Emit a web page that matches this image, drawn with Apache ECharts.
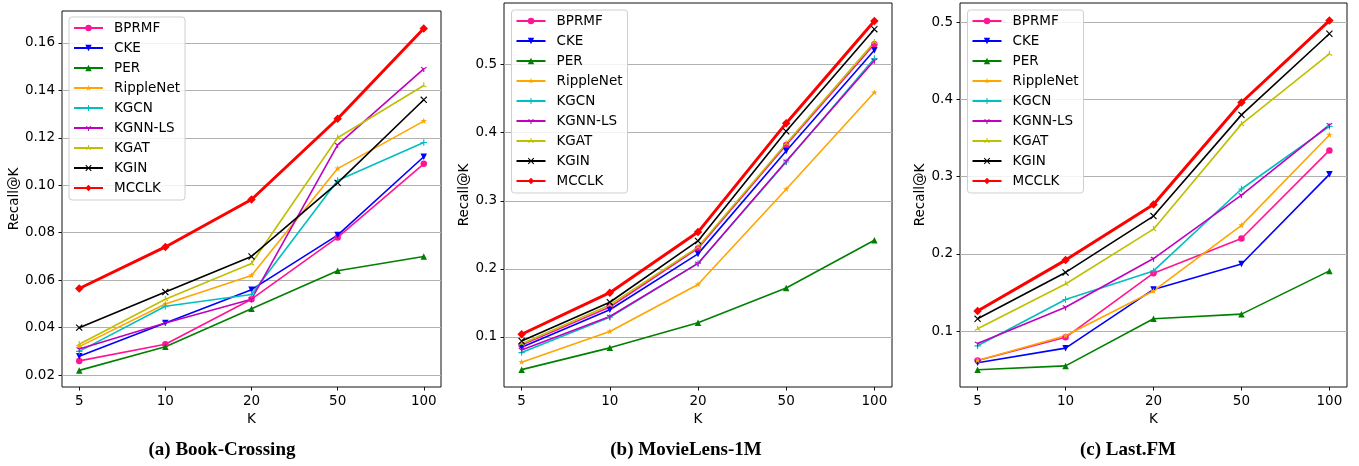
<!DOCTYPE html>
<html>
<head>
<meta charset="utf-8">
<script src="https://cdn.jsdelivr.net/npm/echarts@6/dist/echarts.min.js"></script>
<style>html,body{margin:0;padding:0;background:#fff;}#c{width:1359px;height:466px;}</style>
</head>
<body>
<div id="c"></div>
<script>
// ---------------- data ----------------
const categories = ['5', '10', '20', '50', '100'];
const methods = ['BPRMF', 'CKE', 'PER', 'RippleNet', 'KGCN', 'KGNN-LS', 'KGAT', 'KGIN', 'MCCLK'];

const bookCrossing = [
  [0.026, 0.033, 0.052, 0.078, 0.109],
  [0.028, 0.042, 0.056, 0.079, 0.112],
  [0.022, 0.032, 0.048, 0.064, 0.070],
  [0.032, 0.050, 0.062, 0.107, 0.127],
  [0.030, 0.049, 0.054, 0.102, 0.118],
  [0.031, 0.042, 0.052, 0.117, 0.149],
  [0.033, 0.052, 0.067, 0.120, 0.142],
  [0.040, 0.055, 0.070, 0.101, 0.136],
  [0.0565, 0.074, 0.094, 0.128, 0.166]
];
const movieLens = [
  [0.088, 0.144, 0.230, 0.382, 0.530],
  [0.085, 0.140, 0.222, 0.373, 0.521],
  [0.052, 0.084, 0.121, 0.172, 0.242],
  [0.063, 0.108, 0.177, 0.317, 0.459],
  [0.077, 0.129, 0.208, 0.357, 0.509],
  [0.081, 0.130, 0.208, 0.358, 0.506],
  [0.090, 0.147, 0.232, 0.384, 0.533],
  [0.094, 0.151, 0.241, 0.402, 0.552],
  [0.104, 0.165, 0.254, 0.414, 0.564]
];
const lastFM = [
  [0.062, 0.092, 0.175, 0.220, 0.334],
  [0.059, 0.078, 0.154, 0.187, 0.303],
  [0.050, 0.055, 0.116, 0.122, 0.178],
  [0.062, 0.094, 0.152, 0.237, 0.354],
  [0.081, 0.141, 0.178, 0.284, 0.365],
  [0.084, 0.131, 0.194, 0.276, 0.367],
  [0.103, 0.161, 0.232, 0.368, 0.459],
  [0.116, 0.176, 0.249, 0.380, 0.485],
  [0.126, 0.192, 0.264, 0.396, 0.502]
];
const yTicksBook = [0.02, 0.04, 0.06, 0.08, 0.10, 0.12, 0.14, 0.16];
const yTicksMovie = [0.1, 0.2, 0.3, 0.4, 0.5];
const yTicksLast = [0.1, 0.2, 0.3, 0.4, 0.5];
const captions = ['(a) Book-Crossing', '(b) MovieLens-1M', '(c) Last.FM'];

// ---------------- styles ----------------
function armPath(anglesDeg, len, h) {
  let s = 'path://M-11,-11L-11,-11M11,11L11,11';
  anglesDeg.forEach(function (a) {
    const t = a * Math.PI / 180, dx = Math.cos(t), dy = Math.sin(t), px = -dy, py = dx;
    const P = function (x, y) { return x.toFixed(3) + ',' + y.toFixed(3); };
    s += 'M' + P(-dx * h + px * h, -dy * h + py * h) +
         'L' + P(dx * len + px * h, dy * len + py * h) +
         'L' + P(dx * len - px * h, dy * len - py * h) +
         'L' + P(-dx * h - px * h, -dy * h - py * h) + 'Z';
  });
  return s;
}
function starPath(R, r) {
  let s = 'path://M-11,-11L-11,-11M11,11L11,11M';
  for (let i = 0; i < 10; i++) {
    const rad = i % 2 === 0 ? R : r;
    const t = -Math.PI / 2 + i * Math.PI / 5;
    s += (i ? 'L' : '') + (rad * Math.cos(t)).toFixed(3) + ',' + (rad * Math.sin(t)).toFixed(3);
  }
  return s + 'Z';
}
const SYM_PLUS = armPath([0, 90, 180, 270], 10, 1.8);
const SYM_X = armPath([45, 135, 225, 315], 13.5, 1.8);
const SYM_TRIDOWN = armPath([90, 210, 330], 10, 1.8);
const SYM_TRIUP = armPath([270, 30, 150], 10, 1.8);
const SYM_STAR = starPath(10.5, 4.2);

const styles = [
  {color: '#ff1493', symbol: 'circle', size: 6.5, rot: 0, width: 1.6},
  {color: '#0000ff', symbol: 'triangle', size: 6.5, rot: 180, width: 1.6},
  {color: '#008000', symbol: 'triangle', size: 6.5, rot: 0, width: 1.6},
  {color: '#ffa500', symbol: SYM_STAR, size: 7, rot: 0, width: 1.6},
  {color: '#00bfbf', symbol: SYM_PLUS, size: 7, rot: 0, width: 1.6},
  {color: '#bf00bf', symbol: SYM_TRIDOWN, size: 7, rot: 0, width: 1.6},
  {color: '#bfbf00', symbol: SYM_TRIUP, size: 7, rot: 0, width: 1.6},
  {color: '#000000', symbol: SYM_X, size: 7, rot: 0, width: 1.6},
  {color: '#ff0000', symbol: 'diamond', size: 8.5, rot: 0, width: 3}
];

const FONT = 'DejaVu Sans';
const panels = [
  {values: bookCrossing, ticks: yTicksBook, dec: 2, min: 0.0150, max: 0.1734,
   grid: {left: 62, top: 11, width: 379, height: 376}, nameGap: 38,
   legend: {left: 69, top: 17}, capX: 222},
  {values: movieLens, ticks: yTicksMovie, dec: 1, min: 0.0265, max: 0.5905,
   grid: {left: 504, top: 3, width: 388, height: 384}, nameGap: 30,
   legend: {left: 511.5, top: 10}, capX: 686},
  {values: lastFM, ticks: yTicksLast, dec: 1, min: 0.0277, max: 0.5248,
   grid: {left: 960, top: 3, width: 387, height: 384}, nameGap: 30,
   legend: {left: 967.5, top: 10}, capX: 1128}
];

const option = {
  animation: false,
  backgroundColor: '#ffffff',
  grid: [], xAxis: [], yAxis: [], series: [], legend: []
};

panels.forEach(function (p, pi) {
  option.grid.push(Object.assign({show: true, borderColor: '#111', borderWidth: 1, backgroundColor: 'transparent', containLabel: false}, p.grid));
  option.xAxis.push({
    type: 'value', gridIndex: pi, min: -0.2, max: 4.2, position: 'bottom',
    name: 'K', nameLocation: 'middle', nameGap: 22,
    nameTextStyle: {fontFamily: FONT, fontSize: 13.5, color: '#000'},
    axisLine: {show: false, onZero: false},
    axisTick: {show: true, length: 3.5, customValues: [0, 1, 2, 3, 4], lineStyle: {color: '#111', width: 1}},
    axisLabel: {customValues: [0, 1, 2, 3, 4], margin: 7, fontFamily: FONT, fontSize: 13.5, color: '#000',
      formatter: function (v) { return categories[Math.round(v)]; }},
    splitLine: {show: false}
  });
  option.yAxis.push({
    type: 'value', gridIndex: pi, min: p.min, max: p.max, position: 'left',
    name: 'Recall@K', nameLocation: 'middle', nameGap: p.nameGap,
    nameTextStyle: {fontFamily: FONT, fontSize: 13.5, color: '#000'},
    axisLine: {show: false, onZero: false},
    axisTick: {show: true, length: 3.5, customValues: p.ticks, lineStyle: {color: '#111', width: 1}},
    axisLabel: {customValues: p.ticks, margin: 7, fontFamily: FONT, fontSize: 13.5, color: '#000',
      formatter: function (v) { return v.toFixed(p.dec); }},
    splitLine: {show: true, lineStyle: {color: '#b0b0b0', width: 1}}
  });
  methods.forEach(function (m, mi) {
    const st = styles[mi];
    option.series.push({
      type: 'line', name: m, xAxisIndex: pi, yAxisIndex: pi,
      data: p.values[mi].map(function (v, i) { return [i, v]; }),
      symbol: st.symbol, symbolSize: st.size, symbolRotate: st.rot, showSymbol: true,
      lineStyle: {color: st.color, width: st.width},
      itemStyle: {color: st.color},
      emphasis: {disabled: true}, silent: true, clip: false
    });
  });
  option.legend.push({
    orient: 'vertical', left: p.legend.left, top: p.legend.top,
    data: methods, itemWidth: 29, itemHeight: 8, itemGap: 6,
    padding: [4, 5, 5, 4],
    backgroundColor: 'rgba(255,255,255,0.85)', borderColor: '#cfcfcf', borderWidth: 1, borderRadius: 3,
    textStyle: {fontFamily: FONT, fontSize: 13.5, color: '#000', lineHeight: 14, padding: [0, 0, 0, 6]},
    selectedMode: false
  });
});

option.graphic = panels.map(function (p, pi) {
  return {type: 'text', x: p.capX, y: 450.5, silent: true,
    style: {text: captions[pi], font: 'bold 19px "Liberation Serif"', fill: '#000', align: 'center', verticalAlign: 'middle'}};
});

const chart = echarts.init(document.getElementById('c'), null, {renderer: 'canvas'});
chart.setOption(option);
</script>
</body>
</html>
